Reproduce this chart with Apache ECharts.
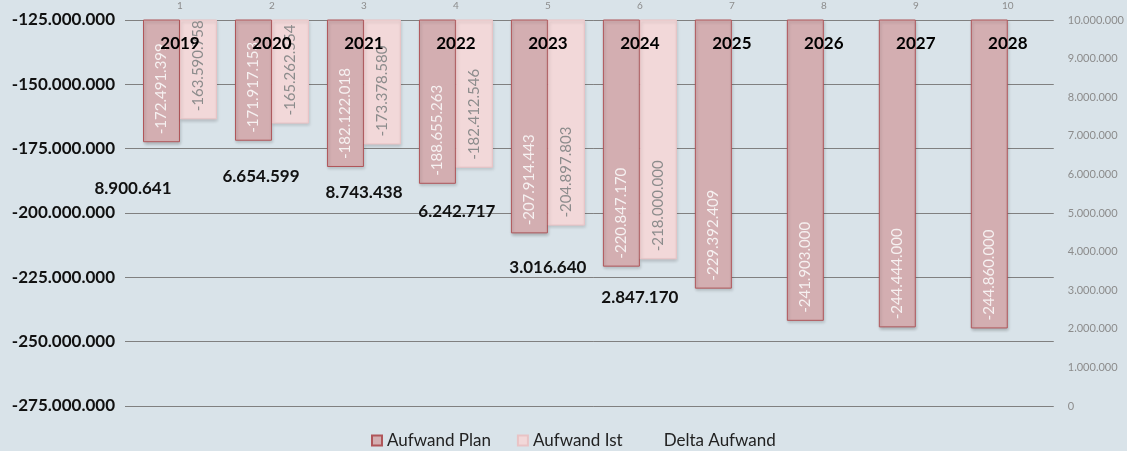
<!DOCTYPE html>
<html>
<head>
<meta charset="utf-8">
<title>Aufwand Plan / Ist</title>
<script src="https://cdn.jsdelivr.net/npm/echarts@6/dist/echarts.min.js"></script>
<style>
  html, body { margin: 0; padding: 0; background: #d9e3e9; }
  #chart { width: 1127px; height: 451px; }
</style>
</head>
<body>
<div id="chart"></div>
<script>
// data
var years = ['2019', '2020', '2021', '2022', '2023', '2024', '2025', '2026', '2027', '2028'];
var topTicks = ['1', '2', '3', '4', '5', '6', '7', '8', '9', '10'];
var planValues = [-172491399, -171917153, -182122018, -188655263, -207914443, -220847170, -229392409, -241903000, -244444000, -244860000];
var istValues = [-163590758, -165262554, -173378580, -182412546, -204897803, -218000000, null, null, null, null];
var deltaValues = [8900641, 6654599, 8743438, 6242717, 3016640, 2847170, null, null, null, null];

// label placement of the delta values (hand placed in the original)
var deltaLabelOffsets = [[-47, 126], [-11, 27], [0, 124], [1, 46], [0, -22], [0, 1]];

var FONT = 'Lato';

// 1234567 -> 1.234.567
var fmt = function (v) {
  if (v == null) return '';
  var neg = v < 0;
  var s = Math.abs(Math.round(v)).toString();
  var out = '';
  while (s.length > 3) {
    out = '.' + s.slice(-3) + out;
    s = s.slice(0, -3);
  }
  return (neg ? '-' : '') + s + out;
};

var deltaData = [];
for (var i = 0; i < deltaValues.length; i++) {
  if (deltaValues[i] == null) {
    deltaData.push(null);
  } else {
    deltaData.push({ value: deltaValues[i], label: { offset: deltaLabelOffsets[i] } });
  }
}

var chart = echarts.init(document.getElementById('chart'));

var option = {
  animation: false,
  backgroundColor: '#d9e3e9',
  textStyle: { fontFamily: FONT },
  grid: { left: 134, right: 73, top: 20, bottom: 45, containLabel: false },
  legend: {
    left: 366,
    top: 427,
    itemWidth: 10,
    itemHeight: 10,
    itemGap: 26,
    textStyle: { fontFamily: FONT, fontSize: 17, color: '#222' },
    data: [
      { name: 'Aufwand Plan', icon: 'rect' },
      { name: 'Aufwand Ist', icon: 'rect' },
      { name: 'Delta Aufwand', icon: 'rect', itemStyle: { color: 'rgba(0,0,0,0)', borderColor: 'rgba(0,0,0,0)' } }
    ]
  },
  xAxis: [
    {
      type: 'category',
      position: 'top',
      data: years,
      z: 10,
      axisLine: { show: false },
      axisTick: { show: false },
      axisLabel: {
        inside: true,
        margin: 15,
        fontFamily: FONT,
        fontSize: 17,
        fontWeight: 'bold',
        color: '#000'
      }
    },
    {
      type: 'category',
      position: 'top',
      data: topTicks,
      axisLine: { show: false },
      axisTick: { show: false },
      axisLabel: { margin: 9, fontFamily: FONT, fontSize: 10, color: '#8c8c8c' }
    }
  ],
  yAxis: [
    {
      type: 'value',
      min: -275000000,
      max: -125000000,
      interval: 25000000,
      axisLine: { show: false },
      axisTick: { show: true, length: 9, lineStyle: { color: '#808080' } },
      splitLine: { show: true, lineStyle: { color: '#808080', width: 1 } },
      axisLabel: {
        margin: 19,
        fontFamily: FONT,
        fontSize: 17,
        fontWeight: 'bold',
        color: '#111',
        formatter: fmt
      }
    },
    {
      type: 'value',
      min: 0,
      max: 10000000,
      interval: 1000000,
      axisLine: { show: false },
      axisTick: { show: false },
      splitLine: { show: false },
      axisLabel: { margin: 14, fontFamily: FONT, fontSize: 11, color: '#8c8c8c', formatter: fmt }
    }
  ],
  series: [
    {
      name: 'Aufwand Plan',
      type: 'bar',
      data: planValues,
      barGap: '0%',
      barCategoryGap: '19.6%',
      itemStyle: {
        color: '#d3aeb1',
        borderColor: '#b0565a',
        borderWidth: 1,
        shadowBlur: 3,
        shadowOffsetX: 1,
        shadowOffsetY: 2,
        shadowColor: 'rgba(0,0,0,0.2)'
      },
      label: {
        show: true,
        position: 'insideBottom',
        distance: 8,
        rotate: 90,
        align: 'left',
        verticalAlign: 'middle',
        fontFamily: FONT,
        fontSize: 15,
        color: '#f6f1f1',
        formatter: function (p) { return fmt(p.value); }
      }
    },
    {
      name: 'Aufwand Ist',
      type: 'bar',
      data: istValues,
      itemStyle: {
        color: '#f2d8d9',
        borderColor: '#e9c3c5',
        borderWidth: 1,
        shadowBlur: 3,
        shadowOffsetX: 1,
        shadowOffsetY: 2,
        shadowColor: 'rgba(0,0,0,0.15)'
      },
      label: {
        show: true,
        position: 'insideBottom',
        distance: 8,
        rotate: 90,
        align: 'left',
        verticalAlign: 'middle',
        fontFamily: FONT,
        fontSize: 15,
        color: '#8c8c8c',
        formatter: function (p) { return fmt(p.value); }
      }
    },
    {
      name: 'Delta Aufwand',
      type: 'line',
      yAxisIndex: 1,
      data: deltaData,
      z: 12,
      symbol: 'circle',
      symbolSize: 1,
      itemStyle: { color: 'rgba(0,0,0,0)' },
      lineStyle: { width: 0, color: 'rgba(0,0,0,0)' },
      label: {
        show: true,
        position: 'inside',
        fontFamily: FONT,
        fontSize: 17,
        fontWeight: 'bold',
        color: '#111',
        formatter: function (p) { return fmt(p.value); }
      }
    }
  ]
};

chart.setOption(option);
</script>
</body>
</html>
